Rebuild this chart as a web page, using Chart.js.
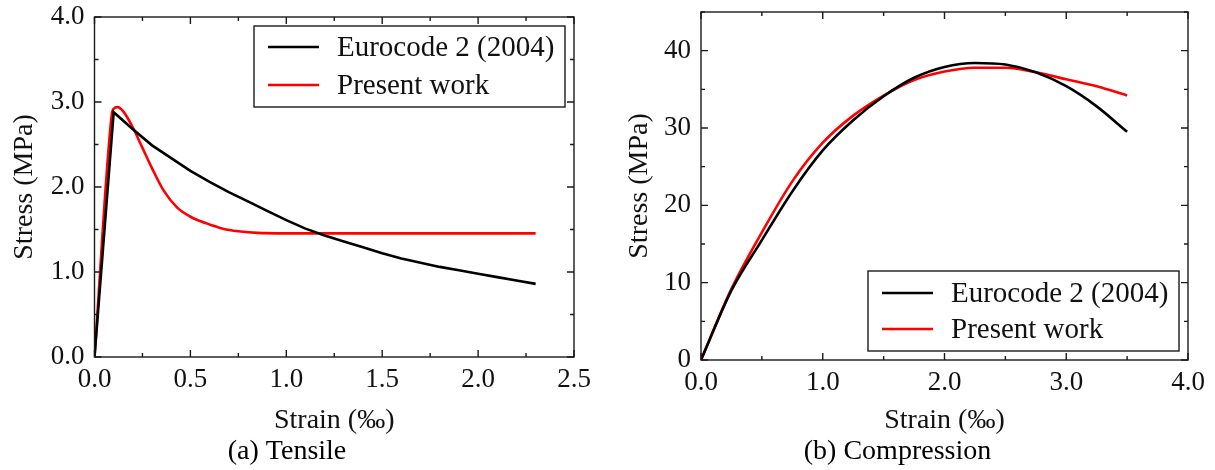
<!DOCTYPE html>
<html>
<head>
<meta charset="utf-8">
<script src="https://cdn.jsdelivr.net/npm/chart.js@4.4.0/dist/chart.umd.min.js"></script>
<style>
  html, body { margin: 0; padding: 0; background: #fff; }
  .wrap { display: flex; width: 1215px; height: 470px; }
  canvas { display: block; }
</style>
</head>
<body>
<div class="wrap">
  <canvas id="tensile" width="607" height="470"></canvas>
  <canvas id="compression" width="608" height="470"></canvas>
</div>
<script>
// ---------- data ----------
const seriesNames = ['Eurocode 2 (2004)', 'Present work'];
const captions = ['(a) Tensile', '(b) Compression'];

// tensile, strain in ‰, stress in MPa
const tenEcStrain = [0, 0.1, 0.2, 0.3, 0.4, 0.5, 0.6, 0.7, 0.8, 0.9, 1.0, 1.1, 1.2,
                     1.3, 1.4, 1.5, 1.6, 1.7, 1.8, 1.9, 2.0, 2.1, 2.2, 2.3];
const tenEcStress = [0, 2.88, 2.68, 2.49, 2.34, 2.19, 2.06, 1.94, 1.83, 1.72, 1.61, 1.51, 1.43,
                     1.36, 1.29, 1.22, 1.16, 1.11, 1.06, 1.02, 0.98, 0.94, 0.90, 0.86];
const tenPwStrain = [0, 0.09, 0.1, 0.12, 0.15, 0.2, 0.25, 0.3, 0.36, 0.43, 0.5, 0.55,
                     0.6, 0.67, 0.75, 0.85, 1.0, 1.5, 2.0, 2.3];
const tenPwStress = [0, 2.85, 2.92, 2.94, 2.89, 2.70, 2.46, 2.22, 1.96, 1.76, 1.65, 1.60,
                     1.56, 1.51, 1.48, 1.46, 1.455, 1.455, 1.455, 1.455];

// compression
const cmpStrain   = [0, 0.25, 0.5, 0.75, 1.0, 1.25, 1.5, 1.75, 2.0, 2.25, 2.5, 2.75, 3.0, 3.25, 3.5];
const cmpEcStress = [0, 9.0, 15.5, 21.8, 27.1, 31.0, 34.1, 36.5, 37.9, 38.4, 38.2, 37.2, 35.4, 32.8, 29.5];
const cmpPwStress = [0, 9.2, 16.5, 23.1, 28.1, 31.6, 34.2, 36.2, 37.3, 37.8, 37.8, 37.2, 36.3, 35.4, 34.2];

// axis ranges / tick steps
const tenX = { min: 0, max: 2.5, step: 0.5 };
const tenY = { min: 0, max: 4.0, step: 1.0 };
const cmpX = { min: 0, max: 4.0, step: 1.0 };
const cmpY = { min: 0, max: 45, step: 10 };

const pts = (xs, ys) => xs.map((x, i) => ({ x, y: ys[i] }));

const SERIF = '"Liberation Serif", "Times New Roman", "DejaVu Serif", serif';
Chart.defaults.font.family = SERIF;
Chart.defaults.color = '#111';

// ---------- plugins ----------
// box round the plot with inward major/minor ticks on all four sides
const framePlugin = {
  id: 'frame',
  afterDatasetsDraw(chart, args, o) {
    const { ctx, chartArea: a, scales: { x, y } } = chart;
    ctx.save();
    ctx.strokeStyle = '#1a1a1a';
    ctx.lineWidth = 1.4;
    ctx.strokeRect(a.left, a.top, a.right - a.left, a.bottom - a.top);
    ctx.beginPath();
    for (let i = 0; ; i++) {
      const v = x.min + i * o.xStep / 2;
      if (v > x.max + 1e-9) break;
      const len = i % 2 ? 4 : 7, px = x.getPixelForValue(v);
      ctx.moveTo(px, a.bottom); ctx.lineTo(px, a.bottom - len);
      ctx.moveTo(px, a.top); ctx.lineTo(px, a.top + len);
    }
    for (let i = 0; ; i++) {
      const v = y.min + i * o.yStep / 2;
      if (v > y.max + 1e-9) break;
      const len = i % 2 ? 4 : 7, py = y.getPixelForValue(v);
      ctx.moveTo(a.left, py); ctx.lineTo(a.left + len, py);
      ctx.moveTo(a.right, py); ctx.lineTo(a.right - len, py);
    }
    ctx.stroke();
    ctx.restore();
  }
};

// boxed legend inside the plot area
const boxLegend = {
  id: 'boxLegend',
  afterDraw(chart, args, o) {
    const { ctx, chartArea: a } = chart;
    const w = o.width, h = o.height;
    const left = a.right - o.inset - w;
    const top = o.corner === 'top' ? a.top + o.inset : a.bottom - o.inset - h;
    ctx.save();
    ctx.fillStyle = '#fff';
    ctx.fillRect(left, top, w, h);
    ctx.strokeStyle = '#1a1a1a';
    ctx.lineWidth = 1.4;
    ctx.strokeRect(left, top, w, h);
    ctx.font = o.fontSize + 'px ' + SERIF;
    ctx.textBaseline = 'middle';
    chart.data.datasets.forEach((ds, i) => {
      const cy = top + o.rows[i];
      ctx.strokeStyle = ds.borderColor;
      ctx.lineWidth = 2.6;
      ctx.beginPath();
      ctx.moveTo(left + 14, cy);
      ctx.lineTo(left + 65, cy);
      ctx.stroke();
      ctx.fillStyle = '#111';
      ctx.fillText(ds.label, left + 83, cy + 1);
    });
    ctx.restore();
  }
};

// ---------- chart builder ----------
function fixSize(size, horizontal) {
  return scale => {
    if (horizontal) scale.height = size; else scale.width = size;
    scale.paddingTop = 0; scale.paddingBottom = 0;
    scale.paddingLeft = 0; scale.paddingRight = 0;
  };
}

function makeChart(id, cfg) {
  const line = (label, data, color, smooth) => ({
    label, data, borderColor: color, backgroundColor: color,
    borderWidth: 2.6, pointRadius: 0, fill: false,
    tension: 0, cubicInterpolationMode: smooth ? 'monotone' : 'default'
  });
  return new Chart(document.getElementById(id), {
    type: 'line',
    data: {
      datasets: [
        line(seriesNames[0], cfg.ec, '#000000', cfg.ecSmooth),
        line(seriesNames[1], cfg.pw, '#ff0000', true)
      ]
    },
    options: {
      responsive: false,
      animation: false,
      layout: { padding: cfg.pad },
      plugins: {
        legend: { display: false },
        tooltip: { enabled: false },
        title: {
          display: true, position: 'bottom', text: cfg.caption, color: '#000',
          font: { size: 28, weight: 'normal', family: SERIF },
          padding: { top: 0, bottom: 2 }
        },
        frame: { xStep: cfg.x.step, yStep: cfg.y.step },
        boxLegend: cfg.legend
      },
      scales: {
        x: {
          type: 'linear', min: cfg.x.min, max: cfg.x.max,
          grid: { display: false, drawTicks: false },
          border: { display: false },
          ticks: {
            stepSize: cfg.x.step, includeBounds: false, padding: 7, maxRotation: 0,
            font: { size: 27 }, color: '#111', callback: v => v.toFixed(1)
          },
          title: {
            display: true, text: 'Strain (‰)', color: '#111',
            font: { size: 28, lineHeight: 1 }, padding: 0
          },
          afterFit: fixSize(cfg.xHeight, true)
        },
        y: {
          type: 'linear', min: cfg.y.min, max: cfg.y.max,
          grid: { display: false, drawTicks: false },
          border: { display: false },
          ticks: {
            stepSize: cfg.y.step, includeBounds: false, padding: 10,
            font: { size: 27 }, color: '#111', callback: cfg.yFmt
          },
          title: {
            display: true, text: 'Stress (MPa)', color: '#111',
            font: { size: 28, lineHeight: 1 }, padding: { top: cfg.yTitlePad, bottom: 0 }
          },
          afterFit: fixSize(cfg.yWidth, false)
        }
      }
    },
    plugins: [framePlugin, boxLegend]
  });
}

makeChart('tensile', {
  ec: pts(tenEcStrain, tenEcStress),
  pw: pts(tenPwStrain, tenPwStress),
  ecSmooth: false,
  caption: captions[0],
  x: tenX, y: tenY,
  yFmt: v => v.toFixed(1),
  pad: { left: 0, top: 17, right: 33, bottom: 0 },
  yWidth: 94.5, xHeight: 77.4, yTitlePad: 11,
  legend: { corner: 'top', inset: 9, width: 311, height: 81, rows: [21, 59], fontSize: 29 }
});

makeChart('compression', {
  ec: pts(cmpStrain, cmpEcStress),
  pw: pts(cmpStrain, cmpPwStress),
  ecSmooth: true,
  caption: captions[1],
  x: cmpX, y: cmpY,
  yFmt: v => String(v),
  pad: { left: 0, top: 12, right: 27, bottom: 0 },
  yWidth: 94, xHeight: 74.4, yTitlePad: 19,
  legend: { corner: 'bottom', inset: 9, width: 311, height: 80, rows: [22, 58], fontSize: 29 }
});
</script>
</body>
</html>
